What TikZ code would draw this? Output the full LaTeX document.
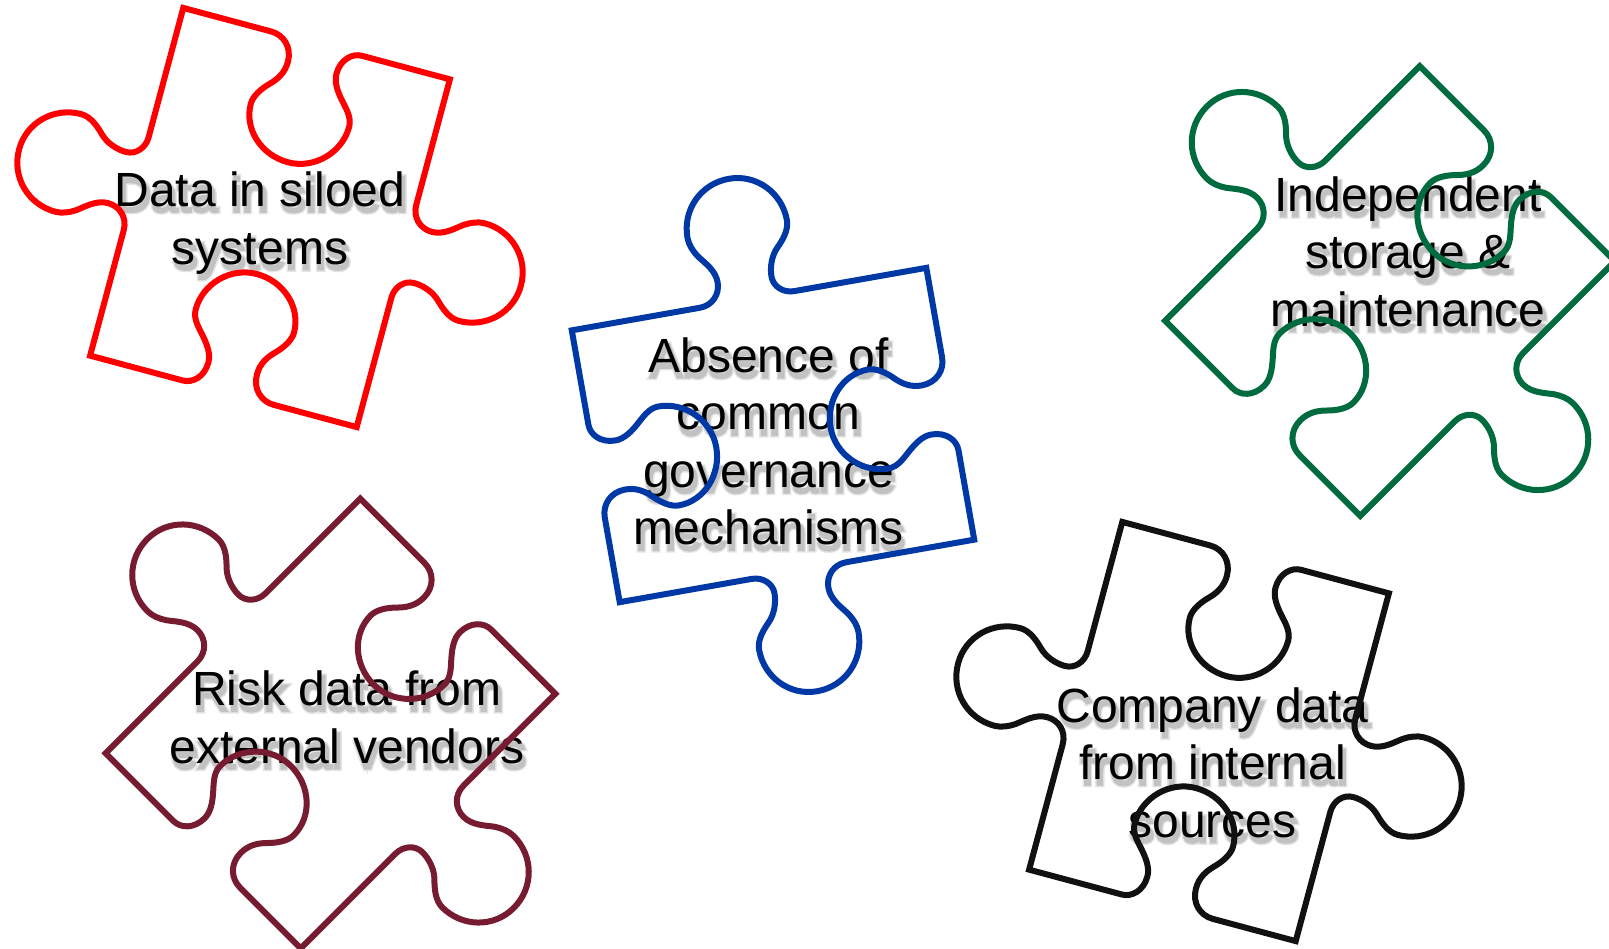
\documentclass[tikz,border=0pt]{standalone}
\usepackage{fontspec}
\usetikzlibrary{calc}
\setmainfont{Liberation Sans}
\newfontfamily\ShadeWide[FakeBold=11]{Liberation Sans}
\newfontfamily\ShadeNarrow[FakeBold=5]{Liberation Sans}
\definecolor{pzred}{HTML}{FF0000}
\definecolor{pzblue}{HTML}{0039A6}
\definecolor{pzgreen}{HTML}{006B3F}
\definecolor{pzmaroon}{HTML}{771C30}
\definecolor{pzblack}{HTML}{111111}
\newcommand{\PiecePath}{
  (-138,-180) -- (-47,-180)
  .. controls (-34,-180) and (-23,-170) .. (-23,-155)
  .. controls (-23,-143) and (-29,-135) .. (-35,-129)
  .. controls (-42,-122) and (-48,-113) .. (-48,-105)
  .. controls (-48,-79) and (-25,-58) .. (3,-58)
  .. controls (30,-58) and (53,-81) .. (53,-108)
  .. controls (53,-118) and (45,-125) .. (39,-132)
  .. controls (33,-139) and (27,-147) .. (27,-156)
  .. controls (27,-171) and (37,-180) .. (47,-180)
  -- (138,-180) -- (138,-50)
  .. controls (138,-37) and (148,-28) .. (160,-28)
  .. controls (172,-28) and (181,-37) .. (189,-43)
  .. controls (195,-47) and (202,-50) .. (209,-50)
  .. controls (237,-50) and (260,-28) .. (260,1)
  .. controls (260,29) and (237,51) .. (209,51)
  .. controls (199,51) and (190,43) .. (184,37)
  .. controls (177,30) and (166,26) .. (156,26)
  .. controls (146,26) and (138,35) .. (138,46)
  -- (138,180) -- (52,180)
  .. controls (39,180) and (28,170) .. (28,155)
  .. controls (28,143) and (34,135) .. (40,129)
  .. controls (47,122) and (53,113) .. (53,105)
  .. controls (53,79) and (30,58) .. (2,58)
  .. controls (-25,58) and (-48,81) .. (-48,108)
  .. controls (-48,118) and (-40,125) .. (-34,132)
  .. controls (-28,139) and (-22,147) .. (-22,156)
  .. controls (-22,171) and (-32,180) .. (-42,180)
  -- (-138,180) -- (-138,50)
  .. controls (-138,37) and (-148,28) .. (-160,28)
  .. controls (-172,28) and (-181,37) .. (-189,43)
  .. controls (-195,47) and (-202,50) .. (-209,50)
  .. controls (-237,50) and (-260,28) .. (-260,-1)
  .. controls (-260,-29) and (-237,-51) .. (-209,-51)
  .. controls (-199,-51) and (-190,-43) .. (-184,-37)
  .. controls (-177,-30) and (-166,-26) .. (-156,-26)
  .. controls (-146,-26) and (-138,-35) .. (-138,-46)
  -- cycle}
\newcommand{\PieceAt}[4]{%
  \begin{scope}[shift={(#1,#2)},rotate=-#3]
    \draw[puzzleline,#4] \PiecePath;
  \end{scope}}
\newcommand{\LabelAt}[4]{%
  \node[labeltext,text=black!10,font=\ShadeWide\fontsize{48pt}{57.5pt}\selectfont] at ($(#1,#2)+(2,5)$) {#3};
  \node[labeltext,text=black!24,font=\ShadeNarrow\fontsize{48pt}{57.5pt}\selectfont] at ($(#1,#2)+(2,5)$) {#3};
  \node[labeltext] (#4) at (#1,#2) {#3};}
\tikzset{
  puzzleline/.style={line width=6pt,line join=miter,miter limit=10},
  labeltext/.style={align=center,inner sep=0pt,outer sep=0pt,text=black,
    font=\fontsize{48pt}{57.5pt}\selectfont}
}
\begin{document}
\begin{tikzpicture}[x=1pt,y=-1pt]
  \useasboundingbox[fill=white] (0,0) rectangle (1609,948);
  \LabelAt{260}{223}{Data in siloed\\systems}{t1}
  \LabelAt{768.5}{441.5}{Absence of\\common\\governance\\mechanisms}{t2}
  \LabelAt{1408}{251.5}{Independent\\storage \&\\maintenance}{t3}
  \LabelAt{347}{717.5}{Risk data from\\external vendors}{t4}
  \LabelAt{1212.5}{762.5}{Company data\\from internal\\sources}{t5}
  \PieceAt{270}{217.5}{15}{draw=pzred}
  \PieceAt{773}{435}{80}{draw=pzblue}
  \PieceAt{1390}{291}{45}{draw=pzgreen}
  \PieceAt{330.5}{723.5}{45}{draw=pzmaroon}
  \PieceAt{1209}{731.5}{15}{draw=pzblack}
\end{tikzpicture}
\end{document}
